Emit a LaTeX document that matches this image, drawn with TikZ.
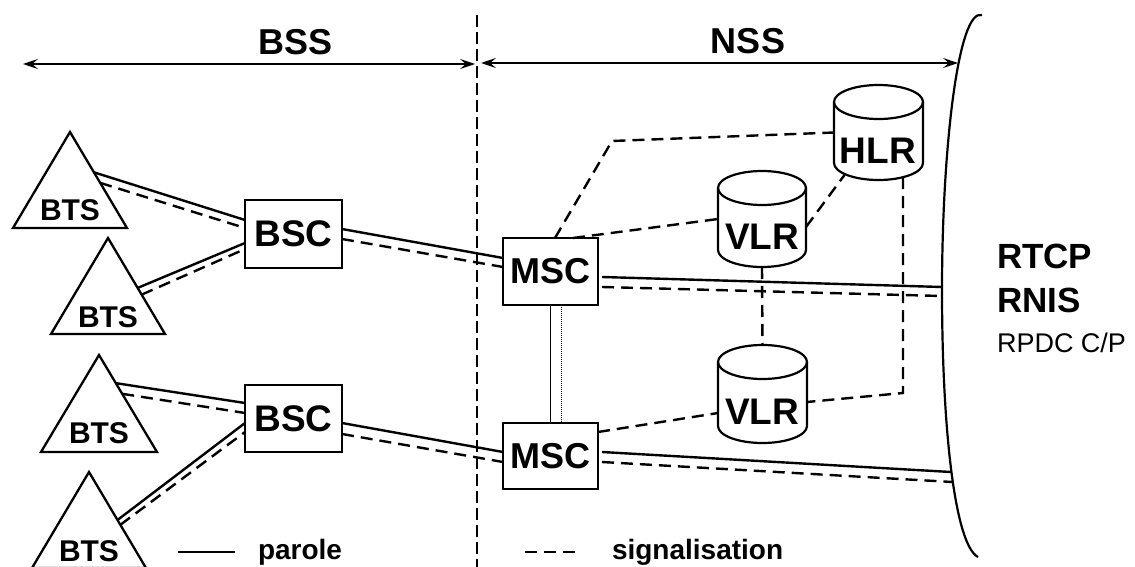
\documentclass[tikz,border=0pt]{standalone}
\usepackage{fontspec}
\setmainfont{Liberation Sans}
\usetikzlibrary{arrows.meta,calc}

\newcommand{\drawcyl}[2]{%
  \draw[db] ([yshift=-17pt]#1.north west) -- ([yshift=17pt]#1.south west)
     arc[start angle=180,end angle=360,x radius=#2pt,y radius=17pt]
     -- ([yshift=-17pt]#1.north east);
  \draw[db] ([yshift=-17pt]#1.north) ellipse [x radius=#2pt,y radius=17pt];}

\begin{document}
\begin{tikzpicture}[x=1pt,y=-1pt,
  every node/.style={inner sep=0pt,outer sep=0pt},
  boxnode/.style={draw,line width=1.8pt,minimum width=96pt,minimum height=67pt,
     font=\bfseries\fontsize{37}{40}\selectfont},
  cylbox/.style={minimum width=89pt,minimum height=96pt},
  lbl/.style={font=\bfseries\fontsize{#1}{#1}\selectfont},
  speech/.style={line width=2.4pt},
  sig/.style={line width=2.4pt,dash pattern=on 12pt off 7pt},
  db/.style={line width=2.2pt},
  tri/.style={line width=2.3pt,line join=miter},
  span/.style={line width=1.6pt,{Stealth[length=15pt,width=10pt,inset=6pt]}-{Stealth[length=15pt,width=10pt,inset=6pt]}},
]
\useasboundingbox (0,0) rectangle (1135,567);
\fill[white] (0,0) rectangle (1135,567);

% ---- separator and spans ----
\coordinate (sepT) at (477,15);
\coordinate (sepB) at (477,567);
\draw[line width=1.3pt,dash pattern=on 12pt off 5pt] (sepT) -- (sepB);

\coordinate (bssL) at (23,64);
\coordinate (bssR) at (475,64);
\coordinate (nssL) at (481,63);
\coordinate (nssR) at (958,63);
\draw[span] (bssL) -- (bssR);
\draw[span] (nssL) -- (nssR);
\node[lbl=36] (bss) at (296,42.5) {BSS};
\node[lbl=36] (nss) at (748,41.5) {NSS};

% ---- network bracket ----
\draw[line width=2.2pt] (982,15) .. controls (958,8) and (942,150) .. (942,290)
   .. controls (942,430) and (955,545) .. (978,557);
\coordinate (n1s) at (942,287);
\coordinate (n1d) at (942,296);
\coordinate (n2s) at (951,472);
\coordinate (n2d) at (952.5,482);

\node[lbl=35,anchor=base west] (rtcp) at (997,268) {RTCP};
\node[lbl=35,anchor=base west] (rnis) at (997,312) {RNIS};
\node[font=\fontsize{27}{27}\selectfont,anchor=base west] (rpdc) at (997,352) {RPDC C/P};

% ---- BTS triangles ----
\coordinate (t1a) at (70,132);  \coordinate (t1l) at (13,228);  \coordinate (t1r) at (127,228);
\coordinate (t2a) at (108,238); \coordinate (t2l) at (51,334);  \coordinate (t2r) at (165,334);
\coordinate (t3a) at (99,355);  \coordinate (t3l) at (41,452);  \coordinate (t3r) at (157,452);
\coordinate (t4a) at (89,472);  \coordinate (t4l) at (32,568);  \coordinate (t4r) at (146,568);
\draw[tri] (t1a) -- (t1l) -- (t1r) -- cycle;
\draw[tri] (t2a) -- (t2l) -- (t2r) -- cycle;
\draw[tri] (t3a) -- (t3l) -- (t3r) -- cycle;
\draw[tri] (t4a) -- (t4l) -- (t4r) -- cycle;
\node[lbl=30] (bts1) at (70,210) {BTS};
\node[lbl=30] (bts2) at (108,317) {BTS};
\node[lbl=30] (bts3) at (99,433) {BTS};
\node[lbl=30] (bts4) at (89,551) {BTS};

% ---- BSC / MSC ----
\node[boxnode,minimum width=97pt,minimum height=68pt] (bsc1) at (293.5,234) {BSC};
\node[boxnode,minimum width=97pt] (bsc2) at (293.5,418.5) {BSC};
\node[boxnode,minimum width=95pt,font=\bfseries\fontsize{36}{40}\selectfont] (msc1) at (550.5,271.5) {MSC};
\node[boxnode,minimum width=95pt,minimum height=66pt,font=\bfseries\fontsize{36}{40}\selectfont] (msc2) at (550.5,456) {MSC};

% ---- databases ----
\node[cylbox,minimum height=95pt] (hlr) at (878.5,132.5) {};
\node[cylbox,minimum width=88pt] (vlr1) at (762,219) {};
\node[cylbox,minimum height=98pt] (vlr2) at (762.5,394) {};
\drawcyl{hlr}{44.5}
\drawcyl{vlr1}{44}
\drawcyl{vlr2}{44.5}
\node[lbl=37] (hlrT) at (878,151) {HLR};
\node[lbl=37] (vlr1T) at (762,237) {VLR};
\node[lbl=37] (vlr2T) at (762,412) {VLR};

% ---- BTS -> BSC ----
\draw[speech] ($(t1a)!0.42!(t1r)$) -- ([yshift=14pt]bsc1.west);
\draw[sig]    ($(t1a)!0.53!(t1r)$) -- ([yshift=6pt]bsc1.west);
\draw[speech] ($(t2a)!0.52!(t2r)$) -- ([yshift=-9pt]bsc1.west);
\draw[sig]    ($(t2a)!0.59!(t2r)$) -- ([yshift=-15pt]bsc1.west);
\draw[speech] ($(t3a)!0.29!(t3r)$) -- ([yshift=15.5pt]bsc2.west);
\draw[sig]    ($(t3a)!0.40!(t3r)$) -- ([yshift=5.5pt]bsc2.west);
\draw[speech] ($(t4a)!0.50!(t4r)$) -- ([yshift=-4.5pt]bsc2.west);
\draw[sig]    ($(t4a)!0.55!(t4r)$) -- ([yshift=-13.5pt]bsc2.west);

% ---- BSC -> MSC ----
\draw[speech] ([yshift=5pt]bsc1.east) -- ([yshift=13.5pt]msc1.west);
\draw[sig]    ([yshift=-5pt]bsc1.east) -- ([yshift=4.5pt]msc1.west);
\draw[speech] ([yshift=-4.5pt]bsc2.east) -- ([yshift=4pt]msc2.west);
\draw[sig]    ([yshift=-15.5pt]bsc2.east) -- ([yshift=-6pt]msc2.west);

% ---- MSC -> network ----
\draw[speech] ([xshift=4pt,yshift=-5.5pt]msc1.east) -- (n1s);
\draw[sig]    ([xshift=4pt,yshift=-15.5pt]msc1.east) -- (n1d);
\draw[speech] ([xshift=4pt,yshift=4pt]msc2.east) -- (n2s);
\draw[sig]    ([xshift=4pt,yshift=-6pt]msc2.east) -- (n2d);

% ---- MSC - MSC ----
\draw[line width=1.6pt] (msc1.south) -- (msc2.north);
\draw[line width=1pt,dash pattern=on 1pt off 1pt] ([xshift=10.5pt]msc1.south) -- ([xshift=10.5pt]msc2.north);

% ---- signalling to databases ----
\draw[sig] ([xshift=4.5pt]msc1.north) -- (612,141) -- (hlr.west);
\draw[sig] ([xshift=22.5pt]msc1.north) -- (vlr1.west);
\draw[sig] ([yshift=-8pt]vlr1.east) -- ([xshift=-34pt,yshift=5pt]hlr.south);
\draw[sig] (vlr1.south) -- (vlr2.north);
\draw[sig] ([xshift=24.5pt,yshift=3pt]hlr.south) -- (903,393) -- ([yshift=-8pt]vlr2.east);
\draw[sig] ([yshift=24pt]msc2.east) -- ([yshift=-19pt]vlr2.west);

% ---- legend ----
\coordinate (lg1a) at (178,552); \coordinate (lg1b) at (235,552);
\coordinate (lg2a) at (525,552); \coordinate (lg2b) at (581,552);
\draw[speech] (lg1a) -- (lg1b);
\draw[sig] (lg2a) -- (lg2b);
\node[lbl=28,anchor=base west] (parole) at (258,559) {parole};
\node[lbl=28,anchor=base west] (signal) at (612,559) {signalisation};
\end{tikzpicture}
\end{document}
